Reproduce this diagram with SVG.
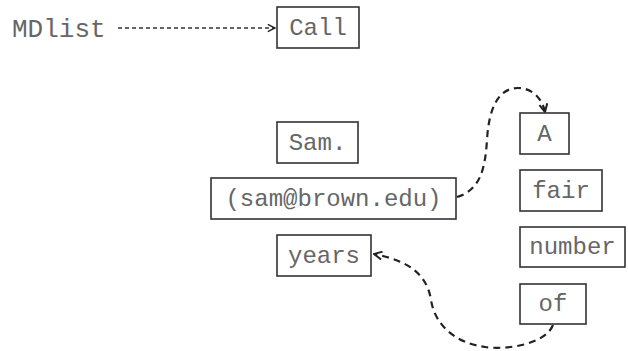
<svg xmlns="http://www.w3.org/2000/svg" width="628" height="351" viewBox="0 0 628 351">
<defs>
<style>
.box{fill:#fff;stroke:#333;stroke-width:1.6}
.t{font-family:"Liberation Mono","Courier New",monospace;font-size:24px;fill:#666;text-anchor:middle;dominant-baseline:central}
.lbl{font-family:"Liberation Mono","Courier New",monospace;font-size:26px;fill:#666}
.thin{fill:none;stroke:#333;stroke-width:1.3;stroke-dasharray:4 3}
.thick{fill:none;stroke:#222;stroke-width:2.2;stroke-dasharray:7 5}
</style>
<marker id="ah" viewBox="0 0 10 10" refX="9" refY="5" markerWidth="9" markerHeight="9" markerUnits="userSpaceOnUse" orient="auto">
<path d="M1,1 L9,5 L1,9" fill="none" stroke="#222" stroke-width="1.6"/>
</marker>
<marker id="ah2" viewBox="0 0 10 10" refX="9" refY="5" markerWidth="10" markerHeight="10" markerUnits="userSpaceOnUse" orient="auto">
<path d="M1,1 L9,5 L1,9" fill="none" stroke="#222" stroke-width="2"/>
</marker>
</defs>
<text class="lbl" x="12" y="37">MDlist</text>
<g id="connectors">
<path class="thin" d="M118,28 L275,28" marker-end="url(#ah)"/>
<path class="thick" d="M457,197 C480,190 485,170 487,140 C489,105 500,88 518,88 C532,88 542,98 545,112" marker-end="url(#ah2)"/>
<path class="thick" d="M553,325 C545,345 505,350 485,347 C455,343 435,325 431,300 C427,275 410,261 374,254" marker-end="url(#ah2)"/>
</g>
<g id="call"><rect class="box" x="277" y="7" width="82" height="41"/><text class="t" x="318" y="28">Call</text></g>
<g id="sam"><rect class="box" x="277" y="122" width="81" height="41"/><text class="t" x="317.5" y="143">Sam.</text></g>
<g id="email"><rect class="box" x="211" y="178" width="245" height="41"/><text class="t" x="333.5" y="199">(sam@brown.edu)</text></g>
<g id="years"><rect class="box" x="277" y="235" width="94" height="41"/><text class="t" x="324" y="256">years</text></g>
<g id="a"><rect class="box" x="520" y="113" width="49" height="41"/><text class="t" x="544.5" y="134">A</text></g>
<g id="fair"><rect class="box" x="520" y="170" width="82" height="41"/><text class="t" x="561" y="191">fair</text></g>
<g id="number"><rect class="box" x="520" y="227" width="105" height="40"/><text class="t" x="572.5" y="247">number</text></g>
<g id="of"><rect class="box" x="520" y="284" width="66" height="40"/><text class="t" x="553" y="304">of</text></g>
</svg>
